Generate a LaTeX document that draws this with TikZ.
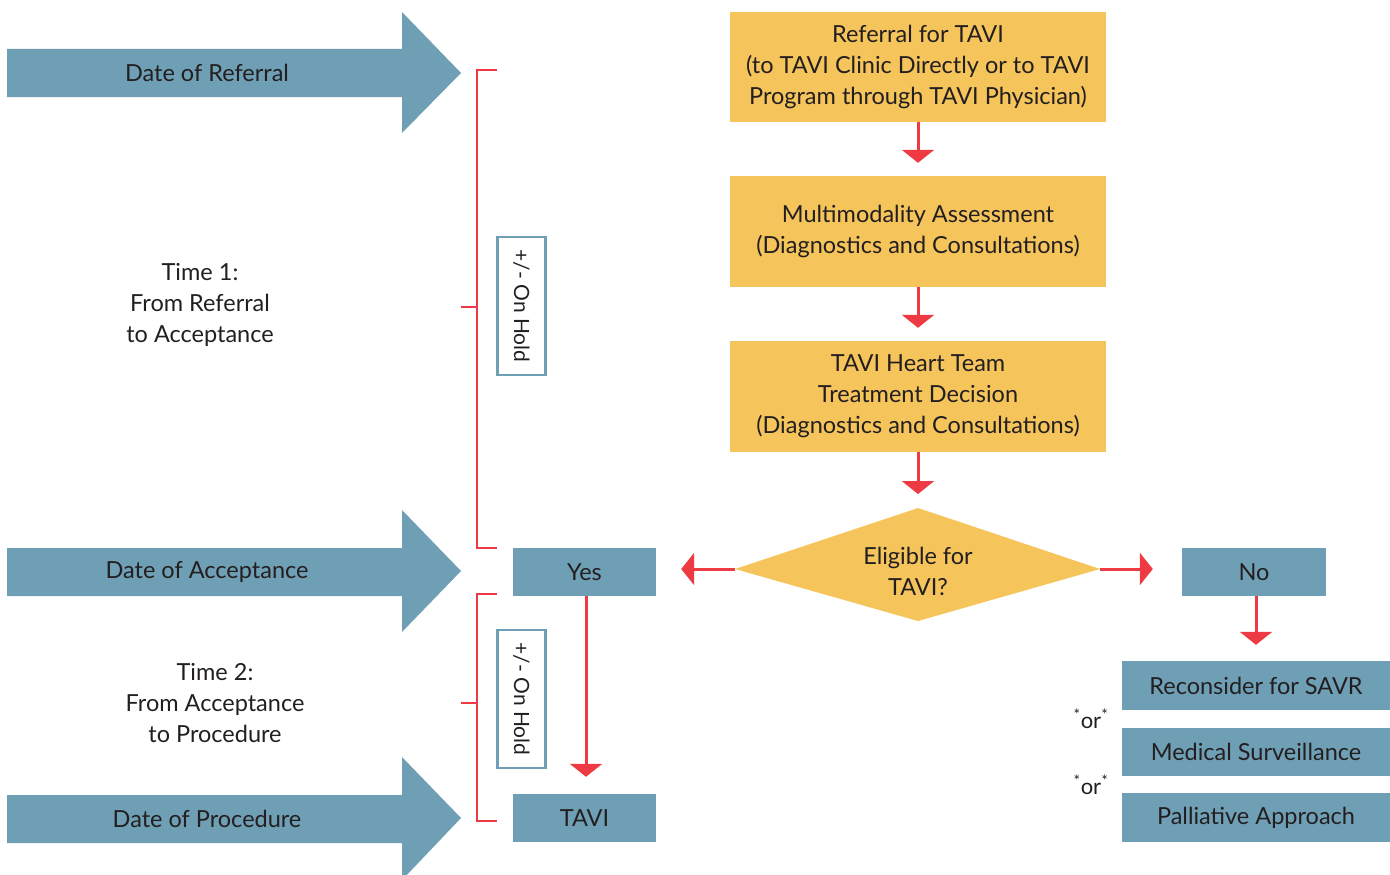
\documentclass[tikz,border=0pt]{standalone}
\usepackage{fontspec}
\setmainfont{Lato}
\usetikzlibrary{arrows.meta}
\definecolor{tblue}{HTML}{6F9FB5}
\definecolor{tyel}{HTML}{F5C55B}
\definecolor{tred}{HTML}{EE3B43}
\definecolor{ttext}{HTML}{231F20}
\tikzset{
  txt/.style={text=ttext,font=\fontsize{23.5}{31}\selectfont,align=center,inner sep=0pt},
  ybox/.style={txt,fill=tyel,minimum width=376pt,minimum height=110pt},
  bbox/.style={txt,fill=tblue,minimum height=48pt},
  holdbox/.style={txt,draw=tblue,line width=2.5pt,fill=white,rotate=-90,minimum width=138pt,minimum height=48pt,font=\fontsize{21}{24}\selectfont},
  redarrow/.style={draw=tred,line width=3pt,-{Triangle[width=32pt,length=13pt]}},
  bracket/.style={draw=tred,line width=2.5pt},
  bigarrow/.style={fill=tblue},
  ortxt/.style={txt,font=\fontsize{22}{24}\selectfont}
}
\begin{document}
\begin{tikzpicture}[x=1pt,y=-1pt]
\useasboundingbox (0,0) rectangle (1390,875);
\begin{scope}
\clip (0,0) rectangle (1390,875);
% big arrows
\fill[bigarrow] (7,49) -- (402,49) -- (402,12) -- (461,73) -- (402,133) -- (402,97) -- (7,97) -- cycle;
\node[txt] (dref) at (207,73) {Date of Referral};
\fill[bigarrow] (7,548) -- (402,548) -- (402,510) -- (461,571) -- (402,632) -- (402,596) -- (7,596) -- cycle;
\node[txt] (dacc) at (207,572) {Date of Acceptance};
\fill[bigarrow] (7,795) -- (402,795) -- (402,757) -- (461,818) -- (402,880) -- (402,843) -- (7,843) -- cycle;
\node[txt] (dproc) at (207,819) {Date of Procedure};
\end{scope}

% time labels
\node[txt] (t1) at (200,305) {Time 1:\\From Referral\\to Acceptance};
\node[txt] (t2) at (215,703) {Time 2:\\From Acceptance\\to Procedure};

% brackets
\draw[bracket] (497,70) -- (477,70) -- (477,548) -- (497,548);
\draw[bracket] (461,307) -- (477,307);
\draw[bracket] (497,594) -- (477,594) -- (477,821) -- (497,821);
\draw[bracket] (461,703) -- (477,703);

% on hold boxes
\node[holdbox] (h1) at (521.5,306) {+/- On Hold};
\node[holdbox] (h2) at (521.5,699) {+/- On Hold};

% yellow boxes
\node[ybox] (b1) at (918,67) {Referral for TAVI\\(to TAVI Clinic Directly or to TAVI\\Program through TAVI Physician)};
\node[ybox,minimum height=111pt] (b2) at (918,231.5) {Multimodality Assessment\\(Diagnostics and Consultations)};
\node[ybox,minimum height=111pt] (b3) at (918,396.5) {TAVI Heart Team\\Treatment Decision\\(Diagnostics and Consultations)};

% diamond
\coordinate (dt) at (918,508);
\coordinate (dr) at (1100,569);
\coordinate (db) at (918,621);
\coordinate (dl) at (735,569);
\fill[tyel] (dt) -- (dr) -- (db) -- (dl) -- cycle;
\node[txt] (elig) at (918,571) {Eligible for\\TAVI?};

% yes / no / tavi
\node[bbox,minimum width=143pt] (yes) at (584.5,572) {Yes};
\node[bbox,minimum width=143pt] (tavi) at (584.5,818) {TAVI};
\node[bbox,minimum width=144pt] (no) at (1254,572) {No};

% right boxes
\node[bbox,minimum width=268pt,minimum height=49pt] (savr) at (1256,685.5) {Reconsider for SAVR};
\node[bbox,minimum width=268pt] (surv) at (1256,752) {Medical Surveillance};
\node[bbox,minimum width=268pt,minimum height=49pt] (pall) at (1256,817.5) {Palliative Approach};

\node[ortxt] (or1) at (1091,719) {\textsuperscript{*}or\textsuperscript{*}};
\node[ortxt] (or2) at (1091,785) {\textsuperscript{*}or\textsuperscript{*}};

% arrows
\draw[redarrow] (b1.south) -- ([yshift=13pt]b2.north);
\draw[redarrow] (b2.south) -- ([yshift=13pt]b3.north);
\draw[redarrow] (b3.south) -- ([yshift=14pt]dt);
\draw[redarrow] (dl) -- ([xshift=25pt]dl -| yes.east);
\draw[redarrow] (dr) -- ([xshift=-29pt]dr -| no.west);
\draw[redarrow] ([xshift=1.5pt]yes.south) coordinate (ys) -- ([yshift=17pt]ys |- tavi.north);
\draw[redarrow] ([xshift=2pt]no.south) coordinate (ns) -- ([yshift=16pt]ns |- savr.north);
\end{tikzpicture}
\end{document}
